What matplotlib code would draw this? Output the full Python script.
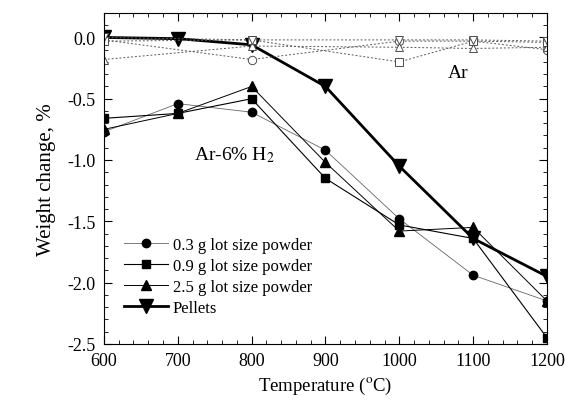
import matplotlib
matplotlib.use("Agg")
import matplotlib.pyplot as plt
from matplotlib.ticker import MultipleLocator

plt.rcParams['font.family'] = ['Liberation Serif', 'DejaVu Serif']
plt.rcParams['mathtext.fontset'] = 'stix'

# data
temp = [600, 700, 800, 900, 1000, 1100, 1200]
powder_03 = [-0.77, -0.54, -0.61, -0.92, -1.48, -1.94, -2.15]
powder_09 = [-0.66, -0.62, -0.50, -1.15, -1.53, -1.64, -2.45]
powder_25 = [-0.75, -0.62, -0.40, -1.02, -1.58, -1.55, -2.15]
pellets = [0.0, -0.01, -0.06, -0.40, -1.05, -1.64, -1.95]

# Ar atmosphere (open symbols)
temp_ar = [600, 800, 1000, 1100, 1200]
ar_down = [0.0, -0.02, -0.02, -0.02, -0.03]
ar_square = [-0.03, -0.02, -0.20, -0.03, -0.04]
ar_up = [-0.18, -0.07, -0.08, -0.09, -0.08]
ar_circle = [-0.02, -0.18, -0.03, -0.03, -0.10]

fig = plt.figure(figsize=(5.65, 4.1), dpi=100)
ax = fig.add_axes([0.184, 0.159, 0.784, 0.807])

ax.plot(temp, powder_03, ls='-', lw=0.6, color='0.4', marker='o', ms=6,
        mfc='black', mec='black', label='0.3 g lot size powder')
ax.plot(temp, powder_09, ls='-', lw=0.8, color='black', marker='s', ms=6,
        mfc='black', mec='black', label='0.9 g lot size powder')
ax.plot(temp, powder_25, ls='-', lw=0.7, color='black', marker='^', ms=7,
        mfc='black', mec='black', label='2.5 g lot size powder')
ax.plot(temp, pellets, ls='-', lw=2.0, color='black', marker='v', ms=9.5,
        mfc='black', mec='black', label='Pellets')

# Ar series, dotted
for y, m in [(ar_circle, 'o'), (ar_up, '^'), (ar_square, 's'), (ar_down, 'v')]:
    ax.plot(temp_ar, y, ls=(0, (2, 2)), lw=0.7, color='0.35', marker=m, ms=6,
            mfc='white', mec='0.3', mew=0.7)

ax.set_xlim(600, 1200)
ax.set_ylim(-2.5, 0.2)
ax.xaxis.set_major_locator(MultipleLocator(100))
ax.xaxis.set_minor_locator(MultipleLocator(20))
ax.yaxis.set_major_locator(MultipleLocator(0.5))
ax.yaxis.set_minor_locator(MultipleLocator(0.1))
ax.yaxis.set_major_formatter(matplotlib.ticker.FormatStrFormatter('%.1f'))
ax.tick_params(which='both', direction='in', top=True, right=True, labelsize=13)
ax.tick_params(which='major', length=6, width=0.8, pad=6)
ax.tick_params(which='minor', length=3, width=0.6)
for s in ax.spines.values():
    s.set_linewidth(0.8)

ax.set_xlabel(r'Temperature ($^{\rm o}$C)', fontsize=13.5)
ax.set_ylabel('Weight change, %', fontsize=15, labelpad=8)

ax.text(1080, -0.29, 'Ar', fontsize=14, ha='center', va='center')
ax.text(722, -0.95, r'Ar-6% H$_2$', fontsize=14, ha='left', va='center')

ax.legend(loc='lower left', bbox_to_anchor=(0.02, 0.05), frameon=False,
          fontsize=12, handlelength=2.6, labelspacing=0.3, borderpad=0.2,
          handletextpad=0.3)

fig.savefig('out.png', dpi=100)
